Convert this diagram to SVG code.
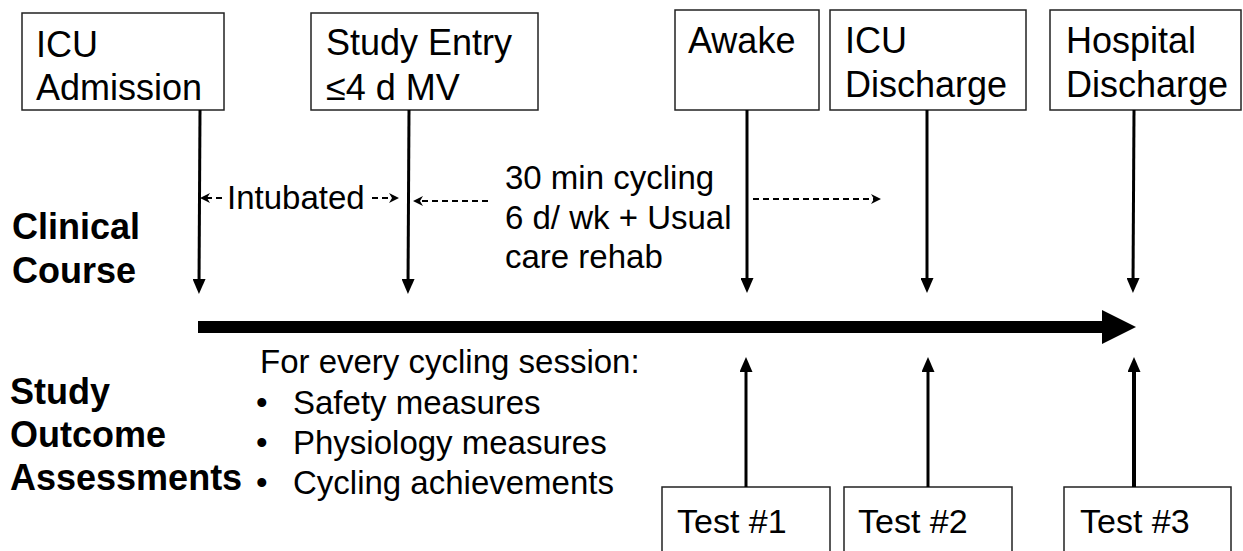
<svg xmlns="http://www.w3.org/2000/svg" width="1243" height="551" viewBox="0 0 1243 551">
<style>
  .box { fill: #fff; stroke: #222; stroke-width: 1.5; }
  .t { font-family: "Liberation Sans", Arial, sans-serif; font-size: 36px; fill: #000; }
  .m { font-family: "Liberation Sans", Arial, sans-serif; font-size: 33px; fill: #000; }
  .b { font-family: "Liberation Sans", Arial, sans-serif; font-size: 36px; font-weight: bold; fill: #000; }
  .v { stroke: #000; stroke-width: 3; fill: none; }
  .d { stroke: #000; stroke-width: 1.8; stroke-dasharray: 6 4; fill: none; }
</style>
<defs>
  <marker id="ah" markerUnits="userSpaceOnUse" viewBox="0 0 15 13" refX="8" refY="6.5" markerWidth="15" markerHeight="13" orient="auto">
    <path d="M0,0 L15,6.5 L0,13 z" fill="#000"/>
  </marker>
  <marker id="dh" markerUnits="userSpaceOnUse" viewBox="0 0 10 10" refX="4" refY="5" markerWidth="10" markerHeight="10" orient="auto">
    <path d="M0,0 L10,5 L0,10 L3,5 z" fill="#000"/>
  </marker>
</defs>

<g id="node-icu-admission">
  <rect class="box" x="22" y="13" width="202" height="97"/>
  <text class="t" x="36" y="57">ICU</text>
  <text class="t" x="36" y="100">Admission</text>
</g>
<g id="node-study-entry">
  <rect class="box" x="311" y="13" width="227" height="97"/>
  <text class="t" x="326" y="55">Study Entry</text>
  <text class="t" x="326" y="100">≤4 d MV</text>
</g>
<g id="node-awake">
  <rect class="box" x="675" y="10" width="144" height="100"/>
  <text class="t" x="688" y="53">Awake</text>
</g>
<g id="node-icu-discharge">
  <rect class="box" x="830" y="10" width="196" height="100"/>
  <text class="t" x="845" y="53">ICU</text>
  <text class="t" x="845" y="97">Discharge</text>
</g>
<g id="node-hospital-discharge">
  <rect class="box" x="1050" y="10" width="191" height="100"/>
  <text class="t" x="1066" y="53">Hospital</text>
  <text class="t" x="1066" y="97">Discharge</text>
</g>

<g id="label-clinical-course">
  <text class="b" x="12" y="239">Clinical</text>
  <text class="b" x="12" y="283">Course</text>
</g>
<g id="label-study-outcome">
  <text class="b" x="10" y="404">Study</text>
  <text class="b" x="10" y="447">Outcome</text>
  <text class="b" x="10" y="490">Assessments</text>
</g>

<g id="label-intubated">
  <text class="m" x="227" y="209">Intubated</text>
</g>
<g id="label-cycling">
  <text class="m" x="505" y="189">30 min cycling</text>
  <text class="m" x="505" y="229">6 d/ wk + Usual</text>
  <text class="m" x="505" y="268">care rehab</text>
</g>
<g id="label-sessions">
  <text class="m" x="260" y="373">For every cycling session:</text>
  <text class="m" x="256" y="414">•</text>
  <text class="m" x="293" y="414">Safety measures</text>
  <text class="m" x="256" y="454">•</text>
  <text class="m" x="293" y="454">Physiology measures</text>
  <text class="m" x="256" y="494">•</text>
  <text class="m" x="293" y="494">Cycling achievements</text>
</g>

<g id="node-test1">
  <rect class="box" x="662" y="487" width="168" height="80"/>
  <text class="m" x="677" y="533" style="font-size:34px">Test #1</text>
</g>
<g id="node-test2">
  <rect class="box" x="844" y="487" width="168" height="80"/>
  <text class="m" x="858" y="533" style="font-size:34px">Test #2</text>
</g>
<g id="node-test3">
  <rect class="box" x="1064" y="487" width="167" height="80"/>
  <text class="m" x="1080" y="533" style="font-size:34px">Test #3</text>
</g>

<g id="connectors">
  <!-- timeline -->
  <rect x="198" y="321" width="906" height="12" fill="#000"/>
  <path d="M1102,310 L1136,327 L1102,344 z" fill="#000"/>
  <!-- down arrows -->
  <path class="v" d="M200,110 L199,287" marker-end="url(#ah)"/>
  <path class="v" d="M409,110 L408,287" marker-end="url(#ah)"/>
  <path class="v" d="M747,110 L747,286" marker-end="url(#ah)"/>
  <path class="v" d="M927,110 L927,286" marker-end="url(#ah)"/>
  <path class="v" d="M1134,110 L1133,286" marker-end="url(#ah)"/>
  <!-- up arrows -->
  <path class="v" d="M746,487 L746,364" marker-end="url(#ah)"/>
  <path class="v" d="M928,487 L928,364" marker-end="url(#ah)"/>
  <path class="v" d="M1134,487 L1134,364" style="stroke-width:4" marker-end="url(#ah)"/>
  <!-- dashed arrows -->
  <path class="d" d="M222,198 L206,198" marker-end="url(#dh)"/>
  <path class="d" d="M372,198 L393,198" marker-end="url(#dh)"/>
  <path class="d" d="M488,201 L419,201" marker-end="url(#dh)"/>
  <path class="d" d="M753,199 L875,199" marker-end="url(#dh)"/>
</g>
</svg>
